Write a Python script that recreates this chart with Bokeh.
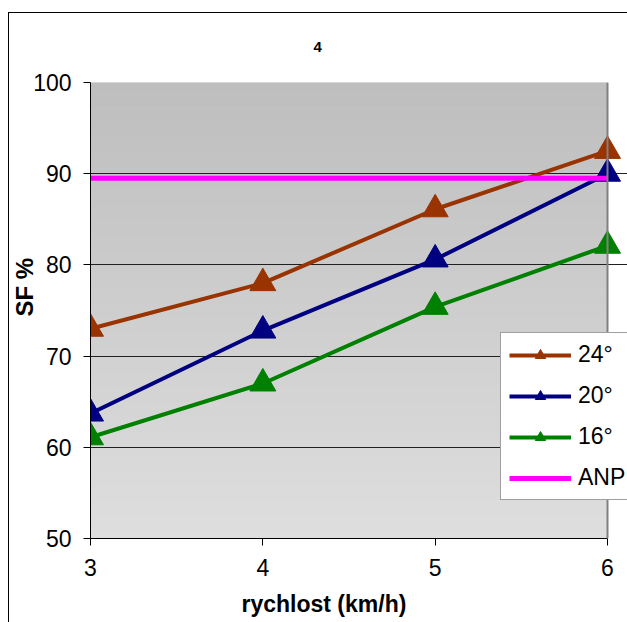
import numpy as np
from bokeh.plotting import figure
from bokeh.models import Legend, LegendItem, Title, FixedTicker, Span
from bokeh.embed import file_html
from bokeh.resources import INLINE

speed = [3, 4, 5, 6]
sf_24 = [73.0, 78.0, 86.1, 92.5]
sf_20 = [63.7, 72.8, 80.6, 90.0]
sf_16 = [61.1, 67.0, 75.4, 82.1]
anp = [89.5, 89.5, 89.5, 89.5]
series_names = ["24°", "20°", "16°", "ANP"]
y_ticks = [50, 60, 70, 80, 90, 100]
title_text = "4"
x_title = "rychlost (km/h)"
y_title = "SF %"

FONT = "Liberation Sans"

x0, x1 = speed[0], speed[-1]
y0, y1 = y_ticks[0], y_ticks[-1]
FW, FH = 517.0, 456.0
extra = (x1 - x0) * 20 / FW  # white strip right of plot area (room for legend)

p = figure(width=618, height=609, output_backend="svg", toolbar_location=None,
           x_range=(x0, x1 + extra), y_range=(y0, y1),
           min_border_left=81, min_border_right=0, min_border_top=69, min_border_bottom=84,
           frame_width=537, frame_height=456)
p.margin = (12, 0, 0, 8)
p.styles = {"border-left": "1px solid #000000", "border-top": "1px solid #000000"}
p.background_fill_color = "white"
p.border_fill_color = "white"
p.outline_line_color = None

# gradient background (darker at top)
n = 60
edges = np.linspace(y0, y1, n + 1)
cols = []
for i in range(n):
    t = i / (n - 1)
    v = int(round(222 - (222 - 190) * t))
    cols.append("#%02x%02x%02x" % (v, v, v))
p.quad(left=x0, right=x1, bottom=edges[:-1], top=edges[1:], fill_color=cols,
       line_color=cols, line_width=1, level="image")

p.xgrid.visible = False
p.ygrid.grid_line_color = "#202020"
p.ygrid.grid_line_width = 1
p.ygrid.ticker = FixedTicker(ticks=y_ticks)
p.ygrid.bounds = (x0, x1)
p.add_layout(Span(location=x1, dimension="height", line_color="#808080", line_width=2))

p.xaxis.ticker = FixedTicker(ticks=speed)
p.xaxis.bounds = (x0, x1)
p.yaxis.ticker = FixedTicker(ticks=y_ticks)
for ax in (p.xaxis[0], p.yaxis[0]):
    ax.axis_line_color = "black"
    ax.axis_line_width = 1
    ax.major_tick_line_color = "black"
    ax.major_tick_out = 7
    ax.major_tick_in = 0
    ax.minor_tick_line_color = None
    ax.major_label_text_font = FONT
    ax.major_label_text_font_size = "23px"
    ax.major_label_text_color = "black"
p.xaxis.major_label_standoff = 13
p.yaxis.major_label_standoff = 12

colors = ["#993300", "#000080", "#008000", "#FF00FF"]
items = []
for name, ys, c in zip(series_names[:3], [sf_24, sf_20, sf_16], colors[:3]):
    r1 = p.line(speed, ys, line_color=c, line_width=4)
    r2 = p.scatter(speed, ys, marker="triangle", size=26, fill_color=c, line_color=c)
    items.append(LegendItem(label=name, renderers=[r1, r2]))
ra = p.line(speed, anp, line_color=colors[3], line_width=5)
items.append(LegendItem(label=series_names[3], renderers=[ra]))

legend = Legend(items=items, location=(410, 38))
legend.label_text_font = FONT
legend.label_text_font_size = "23px"
legend.label_text_color = "black"
legend.glyph_width = 62
legend.glyph_height = 26
legend.label_height = 26
legend.spacing = 14
legend.padding = 8
legend.margin = 0
legend.label_standoff = 7
legend.border_line_color = "#404040"
legend.border_line_width = 1
legend.background_fill_color = "white"
legend.background_fill_alpha = 1
p.add_layout(legend)

# chart title (a blank second line lifts it above the plot area)
p.title.text = title_text + "\n "
p.title.text_font = FONT
p.title.text_font_size = "15px"
p.title.text_font_style = "bold"
p.title.text_color = "black"
p.title.text_line_height = 1.3
p.title.align = "left"
p.title.offset = 223
p.title.standoff = 10

# axis titles as side-panel titles
p.add_layout(Title(text=x_title, text_font=FONT, text_font_size="23px", text_font_style="bold",
                   text_color="black", align="left", offset=151, standoff=20), "below")
p.add_layout(Title(text=y_title, text_font=FONT, text_font_size="24px", text_font_style="bold",
                   text_color="black", align="left", offset=222, standoff=-15), "left")

open("out.html", "w").write(file_html(p, INLINE))
